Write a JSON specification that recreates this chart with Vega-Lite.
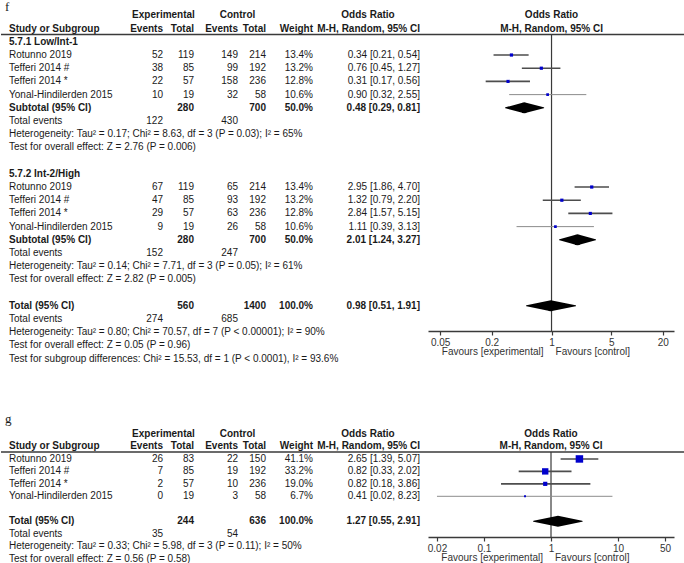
{
  "$schema": "https://vega.github.io/schema/vega-lite/v6.json",
  "padding": 0,
  "spacing": 34,
  "bounds": "flush",
  "background": "white",
  "config": {
    "view": {"stroke": null},
    "text": {"font": "Liberation Sans", "fontSize": 10, "color": "#1a1a1a", "baseline": "middle"},
    "concat": {"spacing": 34}
  },
  "datasets": {
    "cols": [
      {"key": "letter", "col": 0}, {"key": "label", "col": 1}, {"key": "ee", "col": 2}, {"key": "et", "col": 3},
      {"key": "ce", "col": 4}, {"key": "ct", "col": 5}, {"key": "wt", "col": 6}, {"key": "ci", "col": 7},
      {"key": "hexp", "col": 8}, {"key": "hctl", "col": 9}, {"key": "hor", "col": 10}
    ],
    "nullline": [{"v": 1, "left": "Favours [experimental]", "right": "Favours [control]"}],
    "f": [
      {"row": 0, "kind": "panel", "label": "f"},
      {"row": 1, "kind": "head1", "hexp": "Experimental", "hctl": "Control", "hor": "Odds Ratio", "plot": "Odds Ratio"},
      {"row": 2, "kind": "head", "label": "Study or Subgroup", "ee": "Events", "et": "Total", "ce": "Events", "ct": "Total", "wt": "Weight", "ci": "M-H, Random, 95% CI", "plot": "M-H, Random, 95% CI"},
      {"row": 3, "kind": "group", "label": "5.7.1 Low/Int-1"},
      {"row": 4, "kind": "study", "label": "Rotunno 2019", "ee": 52, "et": 119, "ce": 149, "ct": 214, "w": 13.4, "wt": "13.4%", "est": 0.34, "lo": 0.21, "hi": 0.54, "ci": "0.34 [0.21, 0.54]"},
      {"row": 5, "kind": "study", "label": "Tefferi 2014 #", "ee": 38, "et": 85, "ce": 99, "ct": 192, "w": 13.2, "wt": "13.2%", "est": 0.76, "lo": 0.45, "hi": 1.27, "ci": "0.76 [0.45, 1.27]"},
      {"row": 6, "kind": "study", "label": "Tefferi 2014 *", "ee": 22, "et": 57, "ce": 158, "ct": 236, "w": 12.8, "wt": "12.8%", "est": 0.31, "lo": 0.17, "hi": 0.56, "ci": "0.31 [0.17, 0.56]"},
      {"row": 7, "kind": "study", "label": "Yonal-Hindilerden 2015", "ee": 10, "et": 19, "ce": 32, "ct": 58, "w": 10.6, "wt": "10.6%", "est": 0.90, "lo": 0.32, "hi": 2.55, "ci": "0.90 [0.32, 2.55]"},
      {"row": 8, "kind": "subtotal", "label": "Subtotal (95% CI)", "et": 280, "ct": 700, "wt": "50.0%", "est": 0.48, "lo": 0.29, "hi": 0.81, "ci": "0.48 [0.29, 0.81]"},
      {"row": 9, "kind": "events", "label": "Total events", "ee": 122, "ce": 430},
      {"row": 10, "kind": "note", "label": "Heterogeneity: Tau² = 0.17; Chi² = 8.63, df = 3 (P = 0.03); I² = 65%"},
      {"row": 11, "kind": "note", "label": "Test for overall effect: Z = 2.76 (P = 0.006)"},
      {"row": 13, "kind": "group", "label": "5.7.2 Int-2/High"},
      {"row": 14, "kind": "study", "label": "Rotunno 2019", "ee": 67, "et": 119, "ce": 65, "ct": 214, "w": 13.4, "wt": "13.4%", "est": 2.95, "lo": 1.86, "hi": 4.70, "ci": "2.95 [1.86, 4.70]"},
      {"row": 15, "kind": "study", "label": "Tefferi 2014 #", "ee": 47, "et": 85, "ce": 93, "ct": 192, "w": 13.2, "wt": "13.2%", "est": 1.32, "lo": 0.79, "hi": 2.20, "ci": "1.32 [0.79, 2.20]"},
      {"row": 16, "kind": "study", "label": "Tefferi 2014 *", "ee": 29, "et": 57, "ce": 63, "ct": 236, "w": 12.8, "wt": "12.8%", "est": 2.84, "lo": 1.57, "hi": 5.15, "ci": "2.84 [1.57, 5.15]"},
      {"row": 17, "kind": "study", "label": "Yonal-Hindilerden 2015", "ee": 9, "et": 19, "ce": 26, "ct": 58, "w": 10.6, "wt": "10.6%", "est": 1.11, "lo": 0.39, "hi": 3.13, "ci": "1.11 [0.39, 3.13]"},
      {"row": 18, "kind": "subtotal", "label": "Subtotal (95% CI)", "et": 280, "ct": 700, "wt": "50.0%", "est": 2.01, "lo": 1.24, "hi": 3.27, "ci": "2.01 [1.24, 3.27]"},
      {"row": 19, "kind": "events", "label": "Total events", "ee": 152, "ce": 247},
      {"row": 20, "kind": "note", "label": "Heterogeneity: Tau² = 0.14; Chi² = 7.71, df = 3 (P = 0.05); I² = 61%"},
      {"row": 21, "kind": "note", "label": "Test for overall effect: Z = 2.82 (P = 0.005)"},
      {"row": 23, "kind": "subtotal", "label": "Total (95% CI)", "et": 560, "ct": 1400, "wt": "100.0%", "est": 0.98, "lo": 0.51, "hi": 1.91, "ci": "0.98 [0.51, 1.91]"},
      {"row": 24, "kind": "events", "label": "Total events", "ee": 274, "ce": 685},
      {"row": 25, "kind": "note", "label": "Heterogeneity: Tau² = 0.80; Chi² = 70.57, df = 7 (P < 0.00001); I² = 90%"},
      {"row": 26, "kind": "note", "label": "Test for overall effect: Z = 0.05 (P = 0.96)"},
      {"row": 27, "kind": "note", "label": "Test for subgroup differences: Chi² = 15.53, df = 1 (P < 0.0001), I² = 93.6%"}
    ],
    "g": [
      {"row": 0, "kind": "panel", "label": "g"},
      {"row": 1, "kind": "head1", "hexp": "Experimental", "hctl": "Control", "hor": "Odds Ratio", "plot": "Odds Ratio"},
      {"row": 2, "kind": "head", "label": "Study or Subgroup", "ee": "Events", "et": "Total", "ce": "Events", "ct": "Total", "wt": "Weight", "ci": "M-H, Random, 95% CI", "plot": "M-H, Random, 95% CI"},
      {"row": 3, "kind": "study", "label": "Rotunno 2019", "ee": 26, "et": 83, "ce": 22, "ct": 150, "w": 41.1, "wt": "41.1%", "est": 2.65, "lo": 1.39, "hi": 5.07, "ci": "2.65 [1.39, 5.07]"},
      {"row": 4, "kind": "study", "label": "Tefferi 2014 #", "ee": 7, "et": 85, "ce": 19, "ct": 192, "w": 33.2, "wt": "33.2%", "est": 0.82, "lo": 0.33, "hi": 2.02, "ci": "0.82 [0.33, 2.02]"},
      {"row": 5, "kind": "study", "label": "Tefferi 2014 *", "ee": 2, "et": 57, "ce": 10, "ct": 236, "w": 19.0, "wt": "19.0%", "est": 0.82, "lo": 0.18, "hi": 3.86, "ci": "0.82 [0.18, 3.86]"},
      {"row": 6, "kind": "study", "label": "Yonal-Hindilerden 2015", "ee": 0, "et": 19, "ce": 3, "ct": 58, "w": 6.7, "wt": "6.7%", "est": 0.41, "lo": 0.02, "hi": 8.23, "ci": "0.41 [0.02, 8.23]"},
      {"row": 8, "kind": "subtotal", "label": "Total (95% CI)", "et": 244, "ct": 636, "wt": "100.0%", "est": 1.27, "lo": 0.55, "hi": 2.91, "ci": "1.27 [0.55, 2.91]"},
      {"row": 9, "kind": "events", "label": "Total events", "ee": 35, "ce": 54},
      {"row": 10, "kind": "note", "label": "Heterogeneity: Tau² = 0.33; Chi² = 5.98, df = 3 (P = 0.11); I² = 50%"},
      {"row": 11, "kind": "note", "label": "Test for overall effect: Z = 0.56 (P = 0.58)"}
    ]
  },
  "vconcat": [
    {
      "width": 684,
      "height": 368,
      "resolve": {"scale": {"x": "independent", "size": "independent"}},
      "layer": [
        {
          "data": {"name": "f"},
          "transform": [{"filter": {"field": "kind", "equal": "panel"}}],
          "mark": {"type": "text", "align": "left", "font": "Liberation Serif", "fontSize": 13, "dy": 4.5},
          "encoding": {
            "x": {"datum": 0, "type": "quantitative", "scale": {"domain": [0,1,2,3,4,5,6,7,8,9,10], "range": [4,8,162,193,237,265,312,419,162.5,236.5,367], "zero": false, "nice": false}, "axis": null},
            "y": {"field": "row", "type": "quantitative", "scale": {"domain": [-0.167, 27.71], "reverse": true, "zero": false, "nice": false}, "axis": null},
            "text": {"field": "label"}}
        },
        {
          "data": {"name": "f"},
          "transform": [{"filter": {"field": "kind", "oneOf": ["study", "events", "note"]}}],
          "mark": {"type": "text", "align": "left"},
          "encoding": {
            "x": {"datum": 1, "type": "quantitative", "scale": {"domain": [0,1,2,3,4,5,6,7,8,9,10], "range": [4,8,162,193,237,265,312,419,162.5,236.5,367], "zero": false, "nice": false}, "axis": null},
            "y": {"field": "row", "type": "quantitative", "scale": {"domain": [-0.167, 27.71], "reverse": true, "zero": false, "nice": false}, "axis": null},
            "text": {"field": "label"}}
        },
        {
          "data": {"name": "f"},
          "transform": [{"filter": {"field": "kind", "oneOf": ["group", "subtotal", "head"]}}],
          "mark": {"type": "text", "align": "left", "fontWeight": "bold"},
          "encoding": {
            "x": {"datum": 1, "type": "quantitative", "scale": {"domain": [0,1,2,3,4,5,6,7,8,9,10], "range": [4,8,162,193,237,265,312,419,162.5,236.5,367], "zero": false, "nice": false}, "axis": null},
            "y": {"field": "row", "type": "quantitative", "scale": {"domain": [-0.167, 27.71], "reverse": true, "zero": false, "nice": false}, "axis": null},
            "text": {"field": "label"}}
        },
        {
          "data": {"name": "f"},
          "transform": [
            {"filter": {"field": "kind", "oneOf": ["study", "events"]}},
            {"fold": ["ee", "et", "ce", "ct", "wt", "ci"], "as": ["key", "val"]},
            {"filter": "isValid(datum.val)"},
            {"lookup": "key", "from": {"data": {"name": "cols"}, "key": "key", "fields": ["col"]}}
          ],
          "mark": {"type": "text", "align": "right"},
          "encoding": {
            "x": {"field": "col", "type": "quantitative", "scale": {"domain": [0,1,2,3,4,5,6,7,8,9,10], "range": [4,8,162,193,237,265,312,419,162.5,236.5,367], "zero": false, "nice": false}, "axis": null},
            "y": {"field": "row", "type": "quantitative", "scale": {"domain": [-0.167, 27.71], "reverse": true, "zero": false, "nice": false}, "axis": null},
            "text": {"field": "val", "type": "nominal"}}
        },
        {
          "data": {"name": "f"},
          "transform": [
            {"filter": {"field": "kind", "oneOf": ["subtotal", "head"]}},
            {"fold": ["ee", "et", "ce", "ct", "wt", "ci"], "as": ["key", "val"]},
            {"filter": "isValid(datum.val)"},
            {"lookup": "key", "from": {"data": {"name": "cols"}, "key": "key", "fields": ["col"]}}
          ],
          "mark": {"type": "text", "align": "right", "fontWeight": "bold"},
          "encoding": {
            "x": {"field": "col", "type": "quantitative", "scale": {"domain": [0,1,2,3,4,5,6,7,8,9,10], "range": [4,8,162,193,237,265,312,419,162.5,236.5,367], "zero": false, "nice": false}, "axis": null},
            "y": {"field": "row", "type": "quantitative", "scale": {"domain": [-0.167, 27.71], "reverse": true, "zero": false, "nice": false}, "axis": null},
            "text": {"field": "val", "type": "nominal"}}
        },
        {
          "data": {"name": "f"},
          "transform": [
            {"filter": {"field": "kind", "equal": "head1"}},
            {"fold": ["hexp", "hctl", "hor"], "as": ["key", "val"]},
            {"lookup": "key", "from": {"data": {"name": "cols"}, "key": "key", "fields": ["col"]}}
          ],
          "mark": {"type": "text", "align": "center", "fontWeight": "bold"},
          "encoding": {
            "x": {"field": "col", "type": "quantitative", "scale": {"domain": [0,1,2,3,4,5,6,7,8,9,10], "range": [4,8,162,193,237,265,312,419,162.5,236.5,367], "zero": false, "nice": false}, "axis": null},
            "y": {"field": "row", "type": "quantitative", "scale": {"domain": [-0.167, 27.71], "reverse": true, "zero": false, "nice": false}, "axis": null},
            "text": {"field": "val", "type": "nominal"}}
        },
        {
          "data": {"values": [{}]},
          "mark": {"type": "rule", "color": "#3a3a3a", "strokeWidth": 1.5},
          "encoding": {"y": {"datum": 2.45, "type": "quantitative", "scale": {"domain": [-0.167, 27.71], "reverse": true, "zero": false, "nice": false}, "axis": null}}
        },
        {
          "data": {"name": "f"},
          "transform": [{"filter": "isValid(datum.plot)"}],
          "mark": {"type": "text", "align": "center", "fontWeight": "bold"},
          "encoding": {
            "x": {"datum": 1, "type": "quantitative", "scale": {"type": "log", "domain": [0.036, 27], "range": [427, 673], "nice": false}, "axis": null},
            "y": {"field": "row", "type": "quantitative", "scale": {"domain": [-0.167, 27.71], "reverse": true, "zero": false, "nice": false}, "axis": null},
            "text": {"field": "plot"}}
        },
        {
          "data": {"name": "nullline"},
          "mark": {"type": "rule", "color": "#3a3a3a", "strokeWidth": 1.2},
          "encoding": {
            "x": {"field": "v", "type": "quantitative", "scale": {"type": "log", "domain": [0.036, 27], "range": [427, 673], "nice": false}, "axis": {"values": [0.05, 0.2, 1, 5, 20], "format": "~g", "offset": -37, "title": null, "grid": false, "labelFont": "Liberation Sans", "labelFontSize": 10, "labelColor": "#333", "domainColor": "#3a3a3a", "domainWidth": 1.5, "tickColor": "#3a3a3a", "tickSize": 4, "tickWidth": 1.2, "labelPadding": 2}},
            "y": {"datum": 2.45, "type": "quantitative", "scale": {"domain": [-0.167, 27.71], "reverse": true, "zero": false, "nice": false}, "axis": null},
            "y2": {"datum": 24.91}
          }
        },
        {
          "data": {"name": "f"},
          "transform": [{"filter": {"field": "kind", "equal": "study"}}],
          "mark": {"type": "rule"},
          "encoding": {
            "x": {"field": "lo", "type": "quantitative", "scale": {"type": "log", "domain": [0.036, 27], "range": [427, 673], "nice": false}, "axis": null},
            "x2": {"field": "hi"},
            "y": {"field": "row", "type": "quantitative", "scale": {"domain": [-0.167, 27.71], "reverse": true, "zero": false, "nice": false}, "axis": null},
            "color": {"field": "w", "type": "quantitative", "scale": {"type": "threshold", "domain": [11], "range": ["#8c8c8c", "#4d4d4d"]}, "legend": null},
            "strokeWidth": {"field": "w", "type": "quantitative", "scale": {"type": "threshold", "domain": [11], "range": [1, 1.6]}, "legend": null}
          }
        },
        {
          "data": {"name": "f"},
          "transform": [{"filter": {"field": "kind", "equal": "study"}}],
          "mark": {"type": "point", "shape": "square", "filled": true, "color": "#0000cc", "opacity": 1, "strokeWidth": 0},
          "encoding": {
            "x": {"field": "est", "type": "quantitative", "scale": {"type": "log", "domain": [0.036, 27], "range": [427, 673], "nice": false}, "axis": null},
            "y": {"field": "row", "type": "quantitative", "scale": {"domain": [-0.167, 27.71], "reverse": true, "zero": false, "nice": false}, "axis": null},
            "size": {"field": "w", "type": "quantitative", "scale": {"type": "pow", "exponent": 1.5, "domain": [0, 41.1], "range": [0, 56]}, "legend": null}
          }
        },
        {
          "data": {"name": "f"},
          "transform": [
            {"filter": {"field": "kind", "equal": "subtotal"}},
            {"fold": ["lo", "est", "hi"], "as": ["pt", "xv"]}
          ],
          "mark": {"type": "trail", "color": "#000000"},
          "encoding": {
            "x": {"field": "xv", "type": "quantitative", "scale": {"type": "log", "domain": [0.036, 27], "range": [427, 673], "nice": false}, "axis": null},
            "y": {"field": "row", "type": "quantitative", "scale": {"domain": [-0.167, 27.71], "reverse": true, "zero": false, "nice": false}, "axis": null},
            "detail": {"field": "row", "type": "nominal"},
            "size": {"field": "pt", "type": "nominal", "scale": {"type": "ordinal", "domain": ["lo", "est", "hi"], "range": [0, 11, 0]}, "legend": null}
          }
        },
        {
          "data": {"name": "nullline"},
          "mark": {"type": "text", "align": "right", "dx": -8, "color": "#333"},
          "encoding": {
            "x": {"field": "v", "type": "quantitative", "scale": {"type": "log", "domain": [0.036, 27], "range": [427, 673], "nice": false}, "axis": null},
            "y": {"datum": 26.5, "type": "quantitative", "scale": {"domain": [-0.167, 27.71], "reverse": true, "zero": false, "nice": false}, "axis": null},
            "text": {"field": "left"}
          }
        },
        {
          "data": {"name": "nullline"},
          "mark": {"type": "text", "align": "left", "dx": 4, "color": "#333"},
          "encoding": {
            "x": {"field": "v", "type": "quantitative", "scale": {"type": "log", "domain": [0.036, 27], "range": [427, 673], "nice": false}, "axis": null},
            "y": {"datum": 26.5, "type": "quantitative", "scale": {"domain": [-0.167, 27.71], "reverse": true, "zero": false, "nice": false}, "axis": null},
            "text": {"field": "right"}
          }
        }
      ]
    },
    {
      "width": 684,
      "height": 161,
      "resolve": {"scale": {"x": "independent", "size": "independent"}},
      "layer": [
        {
          "data": {"name": "g"},
          "transform": [{"filter": {"field": "kind", "equal": "panel"}}],
          "mark": {"type": "text", "align": "left", "font": "Liberation Serif", "fontSize": 13, "dy": -3},
          "encoding": {
            "x": {"datum": 0, "type": "quantitative", "scale": {"domain": [0,1,2,3,4,5,6,7,8,9,10], "range": [4,8,162,193,237,265,312,419,162.5,236.5,367], "zero": false, "nice": false}, "axis": null},
            "y": {"field": "row", "type": "quantitative", "scale": {"domain": [-1.574, 11.357], "reverse": true, "zero": false, "nice": false}, "axis": null},
            "text": {"field": "label"}}
        },
        {
          "data": {"name": "g"},
          "transform": [{"filter": {"field": "kind", "oneOf": ["study", "events", "note"]}}],
          "mark": {"type": "text", "align": "left"},
          "encoding": {
            "x": {"datum": 1, "type": "quantitative", "scale": {"domain": [0,1,2,3,4,5,6,7,8,9,10], "range": [4,8,162,193,237,265,312,419,162.5,236.5,367], "zero": false, "nice": false}, "axis": null},
            "y": {"field": "row", "type": "quantitative", "scale": {"domain": [-1.574, 11.357], "reverse": true, "zero": false, "nice": false}, "axis": null},
            "text": {"field": "label"}}
        },
        {
          "data": {"name": "g"},
          "transform": [{"filter": {"field": "kind", "oneOf": ["group", "subtotal", "head"]}}],
          "mark": {"type": "text", "align": "left", "fontWeight": "bold"},
          "encoding": {
            "x": {"datum": 1, "type": "quantitative", "scale": {"domain": [0,1,2,3,4,5,6,7,8,9,10], "range": [4,8,162,193,237,265,312,419,162.5,236.5,367], "zero": false, "nice": false}, "axis": null},
            "y": {"field": "row", "type": "quantitative", "scale": {"domain": [-1.574, 11.357], "reverse": true, "zero": false, "nice": false}, "axis": null},
            "text": {"field": "label"}}
        },
        {
          "data": {"name": "g"},
          "transform": [
            {"filter": {"field": "kind", "oneOf": ["study", "events"]}},
            {"fold": ["ee", "et", "ce", "ct", "wt", "ci"], "as": ["key", "val"]},
            {"filter": "isValid(datum.val)"},
            {"lookup": "key", "from": {"data": {"name": "cols"}, "key": "key", "fields": ["col"]}}
          ],
          "mark": {"type": "text", "align": "right"},
          "encoding": {
            "x": {"field": "col", "type": "quantitative", "scale": {"domain": [0,1,2,3,4,5,6,7,8,9,10], "range": [4,8,162,193,237,265,312,419,162.5,236.5,367], "zero": false, "nice": false}, "axis": null},
            "y": {"field": "row", "type": "quantitative", "scale": {"domain": [-1.574, 11.357], "reverse": true, "zero": false, "nice": false}, "axis": null},
            "text": {"field": "val", "type": "nominal"}}
        },
        {
          "data": {"name": "g"},
          "transform": [
            {"filter": {"field": "kind", "oneOf": ["subtotal", "head"]}},
            {"fold": ["ee", "et", "ce", "ct", "wt", "ci"], "as": ["key", "val"]},
            {"filter": "isValid(datum.val)"},
            {"lookup": "key", "from": {"data": {"name": "cols"}, "key": "key", "fields": ["col"]}}
          ],
          "mark": {"type": "text", "align": "right", "fontWeight": "bold"},
          "encoding": {
            "x": {"field": "col", "type": "quantitative", "scale": {"domain": [0,1,2,3,4,5,6,7,8,9,10], "range": [4,8,162,193,237,265,312,419,162.5,236.5,367], "zero": false, "nice": false}, "axis": null},
            "y": {"field": "row", "type": "quantitative", "scale": {"domain": [-1.574, 11.357], "reverse": true, "zero": false, "nice": false}, "axis": null},
            "text": {"field": "val", "type": "nominal"}}
        },
        {
          "data": {"name": "g"},
          "transform": [
            {"filter": {"field": "kind", "equal": "head1"}},
            {"fold": ["hexp", "hctl", "hor"], "as": ["key", "val"]},
            {"lookup": "key", "from": {"data": {"name": "cols"}, "key": "key", "fields": ["col"]}}
          ],
          "mark": {"type": "text", "align": "center", "fontWeight": "bold"},
          "encoding": {
            "x": {"field": "col", "type": "quantitative", "scale": {"domain": [0,1,2,3,4,5,6,7,8,9,10], "range": [4,8,162,193,237,265,312,419,162.5,236.5,367], "zero": false, "nice": false}, "axis": null},
            "y": {"field": "row", "type": "quantitative", "scale": {"domain": [-1.574, 11.357], "reverse": true, "zero": false, "nice": false}, "axis": null},
            "text": {"field": "val", "type": "nominal"}}
        },
        {
          "data": {"values": [{}]},
          "mark": {"type": "rule", "color": "#3a3a3a", "strokeWidth": 1.5},
          "encoding": {"y": {"datum": 2.45, "type": "quantitative", "scale": {"domain": [-1.574, 11.357], "reverse": true, "zero": false, "nice": false}, "axis": null}}
        },
        {
          "data": {"name": "g"},
          "transform": [{"filter": "isValid(datum.plot)"}],
          "mark": {"type": "text", "align": "center", "fontWeight": "bold"},
          "encoding": {
            "x": {"datum": 1, "type": "quantitative", "scale": {"type": "log", "domain": [0.0147, 68], "range": [427, 673], "nice": false}, "axis": null},
            "y": {"field": "row", "type": "quantitative", "scale": {"domain": [-1.574, 11.357], "reverse": true, "zero": false, "nice": false}, "axis": null},
            "text": {"field": "plot"}}
        },
        {
          "data": {"name": "nullline"},
          "mark": {"type": "rule", "color": "#3a3a3a", "strokeWidth": 1.2},
          "encoding": {
            "x": {"field": "v", "type": "quantitative", "scale": {"type": "log", "domain": [0.0147, 68], "range": [427, 673], "nice": false}, "axis": {"values": [0.02, 0.1, 1, 10, 50], "format": "~g", "offset": -26, "title": null, "grid": false, "labelFont": "Liberation Sans", "labelFontSize": 10, "labelColor": "#333", "domainColor": "#3a3a3a", "domainWidth": 1.5, "tickColor": "#3a3a3a", "tickSize": 4, "tickWidth": 1.2, "labelPadding": 2}},
            "y": {"datum": 2.45, "type": "quantitative", "scale": {"domain": [-1.574, 11.357], "reverse": true, "zero": false, "nice": false}, "axis": null},
            "y2": {"datum": 9.27}
          }
        },
        {
          "data": {"name": "g"},
          "transform": [{"filter": {"field": "kind", "equal": "study"}}],
          "mark": {"type": "rule"},
          "encoding": {
            "x": {"field": "lo", "type": "quantitative", "scale": {"type": "log", "domain": [0.0147, 68], "range": [427, 673], "nice": false}, "axis": null},
            "x2": {"field": "hi"},
            "y": {"field": "row", "type": "quantitative", "scale": {"domain": [-1.574, 11.357], "reverse": true, "zero": false, "nice": false}, "axis": null},
            "color": {"field": "w", "type": "quantitative", "scale": {"type": "threshold", "domain": [11], "range": ["#8c8c8c", "#4d4d4d"]}, "legend": null},
            "strokeWidth": {"field": "w", "type": "quantitative", "scale": {"type": "threshold", "domain": [11], "range": [1, 1.6]}, "legend": null}
          }
        },
        {
          "data": {"name": "g"},
          "transform": [{"filter": {"field": "kind", "equal": "study"}}],
          "mark": {"type": "point", "shape": "square", "filled": true, "color": "#0000cc", "opacity": 1, "strokeWidth": 0},
          "encoding": {
            "x": {"field": "est", "type": "quantitative", "scale": {"type": "log", "domain": [0.0147, 68], "range": [427, 673], "nice": false}, "axis": null},
            "y": {"field": "row", "type": "quantitative", "scale": {"domain": [-1.574, 11.357], "reverse": true, "zero": false, "nice": false}, "axis": null},
            "size": {"field": "w", "type": "quantitative", "scale": {"type": "pow", "exponent": 1.5, "domain": [0, 41.1], "range": [0, 56]}, "legend": null}
          }
        },
        {
          "data": {"name": "g"},
          "transform": [
            {"filter": {"field": "kind", "equal": "subtotal"}},
            {"fold": ["lo", "est", "hi"], "as": ["pt", "xv"]}
          ],
          "mark": {"type": "trail", "color": "#000000"},
          "encoding": {
            "x": {"field": "xv", "type": "quantitative", "scale": {"type": "log", "domain": [0.0147, 68], "range": [427, 673], "nice": false}, "axis": null},
            "y": {"field": "row", "type": "quantitative", "scale": {"domain": [-1.574, 11.357], "reverse": true, "zero": false, "nice": false}, "axis": null},
            "detail": {"field": "row", "type": "nominal"},
            "size": {"field": "pt", "type": "nominal", "scale": {"type": "ordinal", "domain": ["lo", "est", "hi"], "range": [0, 11, 0]}, "legend": null}
          }
        },
        {
          "data": {"name": "nullline"},
          "mark": {"type": "text", "align": "right", "dx": -8, "color": "#333"},
          "encoding": {
            "x": {"field": "v", "type": "quantitative", "scale": {"type": "log", "domain": [0.0147, 68], "range": [427, 673], "nice": false}, "axis": null},
            "y": {"datum": 10.96, "type": "quantitative", "scale": {"domain": [-1.574, 11.357], "reverse": true, "zero": false, "nice": false}, "axis": null},
            "text": {"field": "left"}
          }
        },
        {
          "data": {"name": "nullline"},
          "mark": {"type": "text", "align": "left", "dx": 4, "color": "#333"},
          "encoding": {
            "x": {"field": "v", "type": "quantitative", "scale": {"type": "log", "domain": [0.0147, 68], "range": [427, 673], "nice": false}, "axis": null},
            "y": {"datum": 10.96, "type": "quantitative", "scale": {"domain": [-1.574, 11.357], "reverse": true, "zero": false, "nice": false}, "axis": null},
            "text": {"field": "right"}
          }
        }
      ]
    }
  ]
}
